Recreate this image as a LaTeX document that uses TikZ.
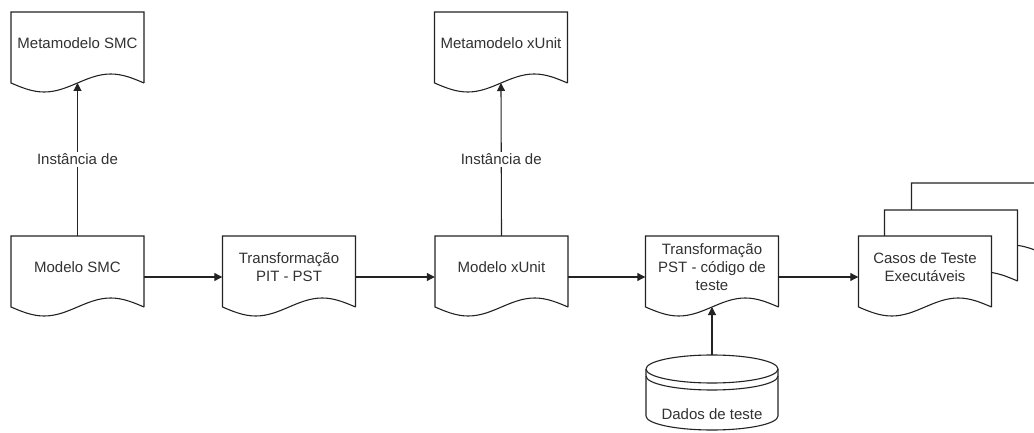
\documentclass[tikz,border=0pt]{standalone}
\usepackage{fontspec}
\setmainfont{Liberation Sans}
\usetikzlibrary{arrows.meta,calc}
\definecolor{flowline}{RGB}{35,35,35}
\definecolor{flowtext}{RGB}{50,50,50}
\tikzset{
  docbox/.style={minimum width=133pt,minimum height=62pt,inner sep=2pt,align=center,text=flowtext,font=\fontsize{15}{18}\selectfont},
  docline/.style={draw=flowline,line width=1.1pt,fill=white},
  flow/.style={draw=flowline,line width=1.1pt,-{Triangle[length=8pt,width=8pt]}},
  lbl/.style={fill=white,text=flowtext,font=\fontsize{15}{18}\selectfont,inner sep=2pt}
}
% document shape: name, x, y, text (y grows downwards)
\newcommand{\docshape}[4]{%
  \draw[docline] (#2+66.5,#3+40) -- (#2+66.5,#3-31) -- (#2-66.5,#3-31) -- (#2-66.5,#3+40)
    sin (#2-33.25,#3+49) cos (#2,#3+40) sin (#2+33.25,#3+31) cos (#2+66.5,#3+40);
  \node[docbox] (#1) at (#2,#3) {#4};
  \coordinate (#1-w) at (#2,#3+40);
}

\begin{document}
\begin{tikzpicture}[x=1pt,y=-1pt]
\clip (0,0) rectangle (1034,433);

% metamodels
\docshape{metasmc}{77.5}{43}{Metamodelo SMC}
\docshape{metaxunit}{501}{43}{Metamodelo xUnit}

% main chain
\docshape{msmc}{77.5}{267}{Modelo SMC}
\docshape{pit}{289}{267}{Transformação\\PIT - PST}
\docshape{mxunit}{501.5}{267}{Modelo xUnit}
\docshape{pst}{712}{267}{Transformação\\PST - código de\\teste}

% stacked output documents
\foreach \s/\n in {53/3,26/2} {
  \docshape{casos\n}{925+\s}{267-\s}{}
}
\docshape{casos}{925}{267}{Casos de Teste\\Executáveis}

% test data store
\draw[docline] (646,369) -- (646,416) arc[start angle=180,end angle=360,x radius=66pt,y radius=14pt]
  -- (778,369) arc[start angle=0,end angle=180,x radius=66pt,y radius=14pt];
\draw[docline,fill=none] (646,369) arc[start angle=180,end angle=360,x radius=66pt,y radius=14pt];
\draw[docline,fill=none] (646,376) arc[start angle=180,end angle=360,x radius=66pt,y radius=14pt];
\node[lbl,fill=none] (dados) at (712,414) {Dados de teste};
\coordinate (dados-t) at (712,355);

% connectors
\draw[flow] (msmc.north) -- node[lbl] {Instância de} (metasmc-w);
\draw[flow] (mxunit.north) -- node[lbl] {Instância de} (metaxunit-w);
\draw[flow] ([yshift=-10pt]msmc.east) -- ([yshift=-10pt]pit.west);
\draw[flow] ([yshift=-10pt]pit.east) -- ([yshift=-10pt]mxunit.west);
\draw[flow] ([yshift=-10pt]mxunit.east) -- ([yshift=-10pt]pst.west);
\draw[flow] ([yshift=-10pt]pst.east) -- ([yshift=-10pt]casos.west);
\draw[flow] (dados-t) -- (pst-w);
\end{tikzpicture}
\end{document}
